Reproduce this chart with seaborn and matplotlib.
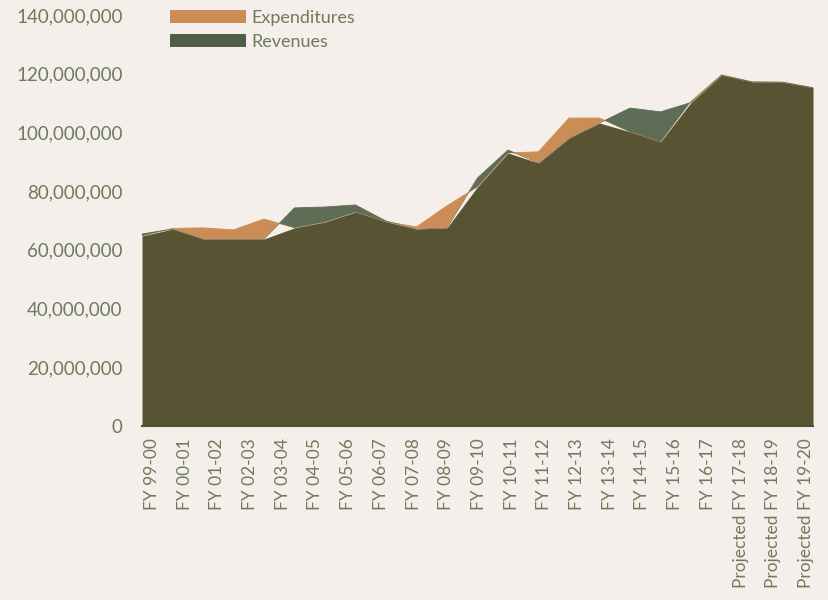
import numpy as np
import pandas as pd
import matplotlib
matplotlib.use("Agg")
import matplotlib.pyplot as plt
import seaborn as sns
from matplotlib.patches import Patch

labels = ["FY 99-00", "FY 00-01", "FY 01-02", "FY 02-03", "FY 03-04", "FY 04-05",
          "FY 05-06", "FY 06-07", "FY 07-08", "FY 08-09", "FY 09-10", "FY 10-11",
          "FY 11-12", "FY 12-13", "FY 13-14", "FY 14-15", "FY 15-16", "FY 16-17",
          "Projected FY 17-18", "Projected FY 18-19", "Projected FY 19-20"]

expenditures = [64.7, 67.3, 67.5, 66.8, 70.5, 67.5, 69.5, 72.9, 69.6, 67.8, 75.0, 81.5,
                93.0, 93.4, 104.9, 104.9, 100.2, 96.8, 110.6, 119.6, 117.2, 117.1, 115.2]
revenues = [65.4, 67.1, 63.7, 63.7, 63.7, 74.3, 74.6, 75.3, 69.8, 67.1, 67.5, 84.5,
            94.0, 89.6, 98.1, 103.2, 108.3, 107.0, 110.2, 119.5, 117.2, 117.1, 115.2]

SCALE = 1e6
df = pd.DataFrame({"pos": np.arange(len(expenditures)),
                   "Expenditures": np.array(expenditures) * SCALE,
                   "Revenues": np.array(revenues) * SCALE})

BG = "#F4EFEB"
ORANGE = "#CB8D55"
GREEN = "#5E6D56"
OLIVE = "#585332"
TXT = "#6E7B5A"

sns.set_theme(style="white")
plt.rcParams["font.family"] = ["Lato", "DejaVu Sans"]

fig = plt.figure(figsize=(8.29, 6.0), dpi=100, facecolor=BG)
ax = fig.add_axes([142/829, 1 - 426/600, (813-142)/829, (426-15)/600])
ax.set_facecolor(BG)

x = df["pos"].values
e = df["Expenditures"].values
r = df["Revenues"].values
low = np.minimum(e, r)

ax.fill_between(x, 0, low, color=OLIVE, linewidth=0, zorder=2)
ax.fill_between(x, r, e, where=e >= r, interpolate=True, color=ORANGE, linewidth=0, zorder=1)
ax.fill_between(x, e, r, where=r >= e, interpolate=True, color=GREEN, linewidth=0, zorder=1)
sns.lineplot(data=df, x="pos", y="Expenditures", ax=ax, color=ORANGE, linewidth=0.6, zorder=0)
sns.lineplot(data=df, x="pos", y="Revenues", ax=ax, color=GREEN, linewidth=0.6, zorder=0)

ax.set_xlim(0, len(expenditures) - 1)
ax.set_ylim(0, 140e6)
ax.set_yticks(np.arange(0, 140e6 + 1, 20e6))
ax.set_yticklabels([f"{int(v):,}" for v in np.arange(0, 140e6 + 1, 20e6)])

# label positions (in data units) as laid out in the reference
tick_pos = (152 + np.arange(len(labels)) * 32.7 - 142) / 30.5
ax.set_xticks(tick_pos)
ax.set_xticklabels(labels, rotation=90, va="top", ha="center")

ax.tick_params(axis="y", colors=TXT, labelsize=13.5, length=0, pad=14)
ax.tick_params(axis="x", colors=TXT, labelsize=12.5, length=0, pad=9)
ax.set_xlabel("")
ax.set_ylabel("")
for s in ["top", "right", "left"]:
    ax.spines[s].set_visible(False)
ax.spines["bottom"].set_color("#4E5230")
ax.spines["bottom"].set_linewidth(1.5)
ax.spines["bottom"].set_zorder(3)

handles = [Patch(facecolor=ORANGE, edgecolor="none"), Patch(facecolor="#505E46", edgecolor="none")]
leg = fig.legend(handles, ["Expenditures", "Revenues"], loc="upper left",
                 bbox_to_anchor=(170/829, 1 - 10/600), frameon=False,
                 fontsize=13, handlelength=4.2, handleheight=0.7,
                 handletextpad=0.3, labelspacing=0.45, borderpad=0, borderaxespad=0)
for t in leg.get_texts():
    t.set_color(TXT)

fig.savefig("out.png", dpi=100, facecolor=BG)
